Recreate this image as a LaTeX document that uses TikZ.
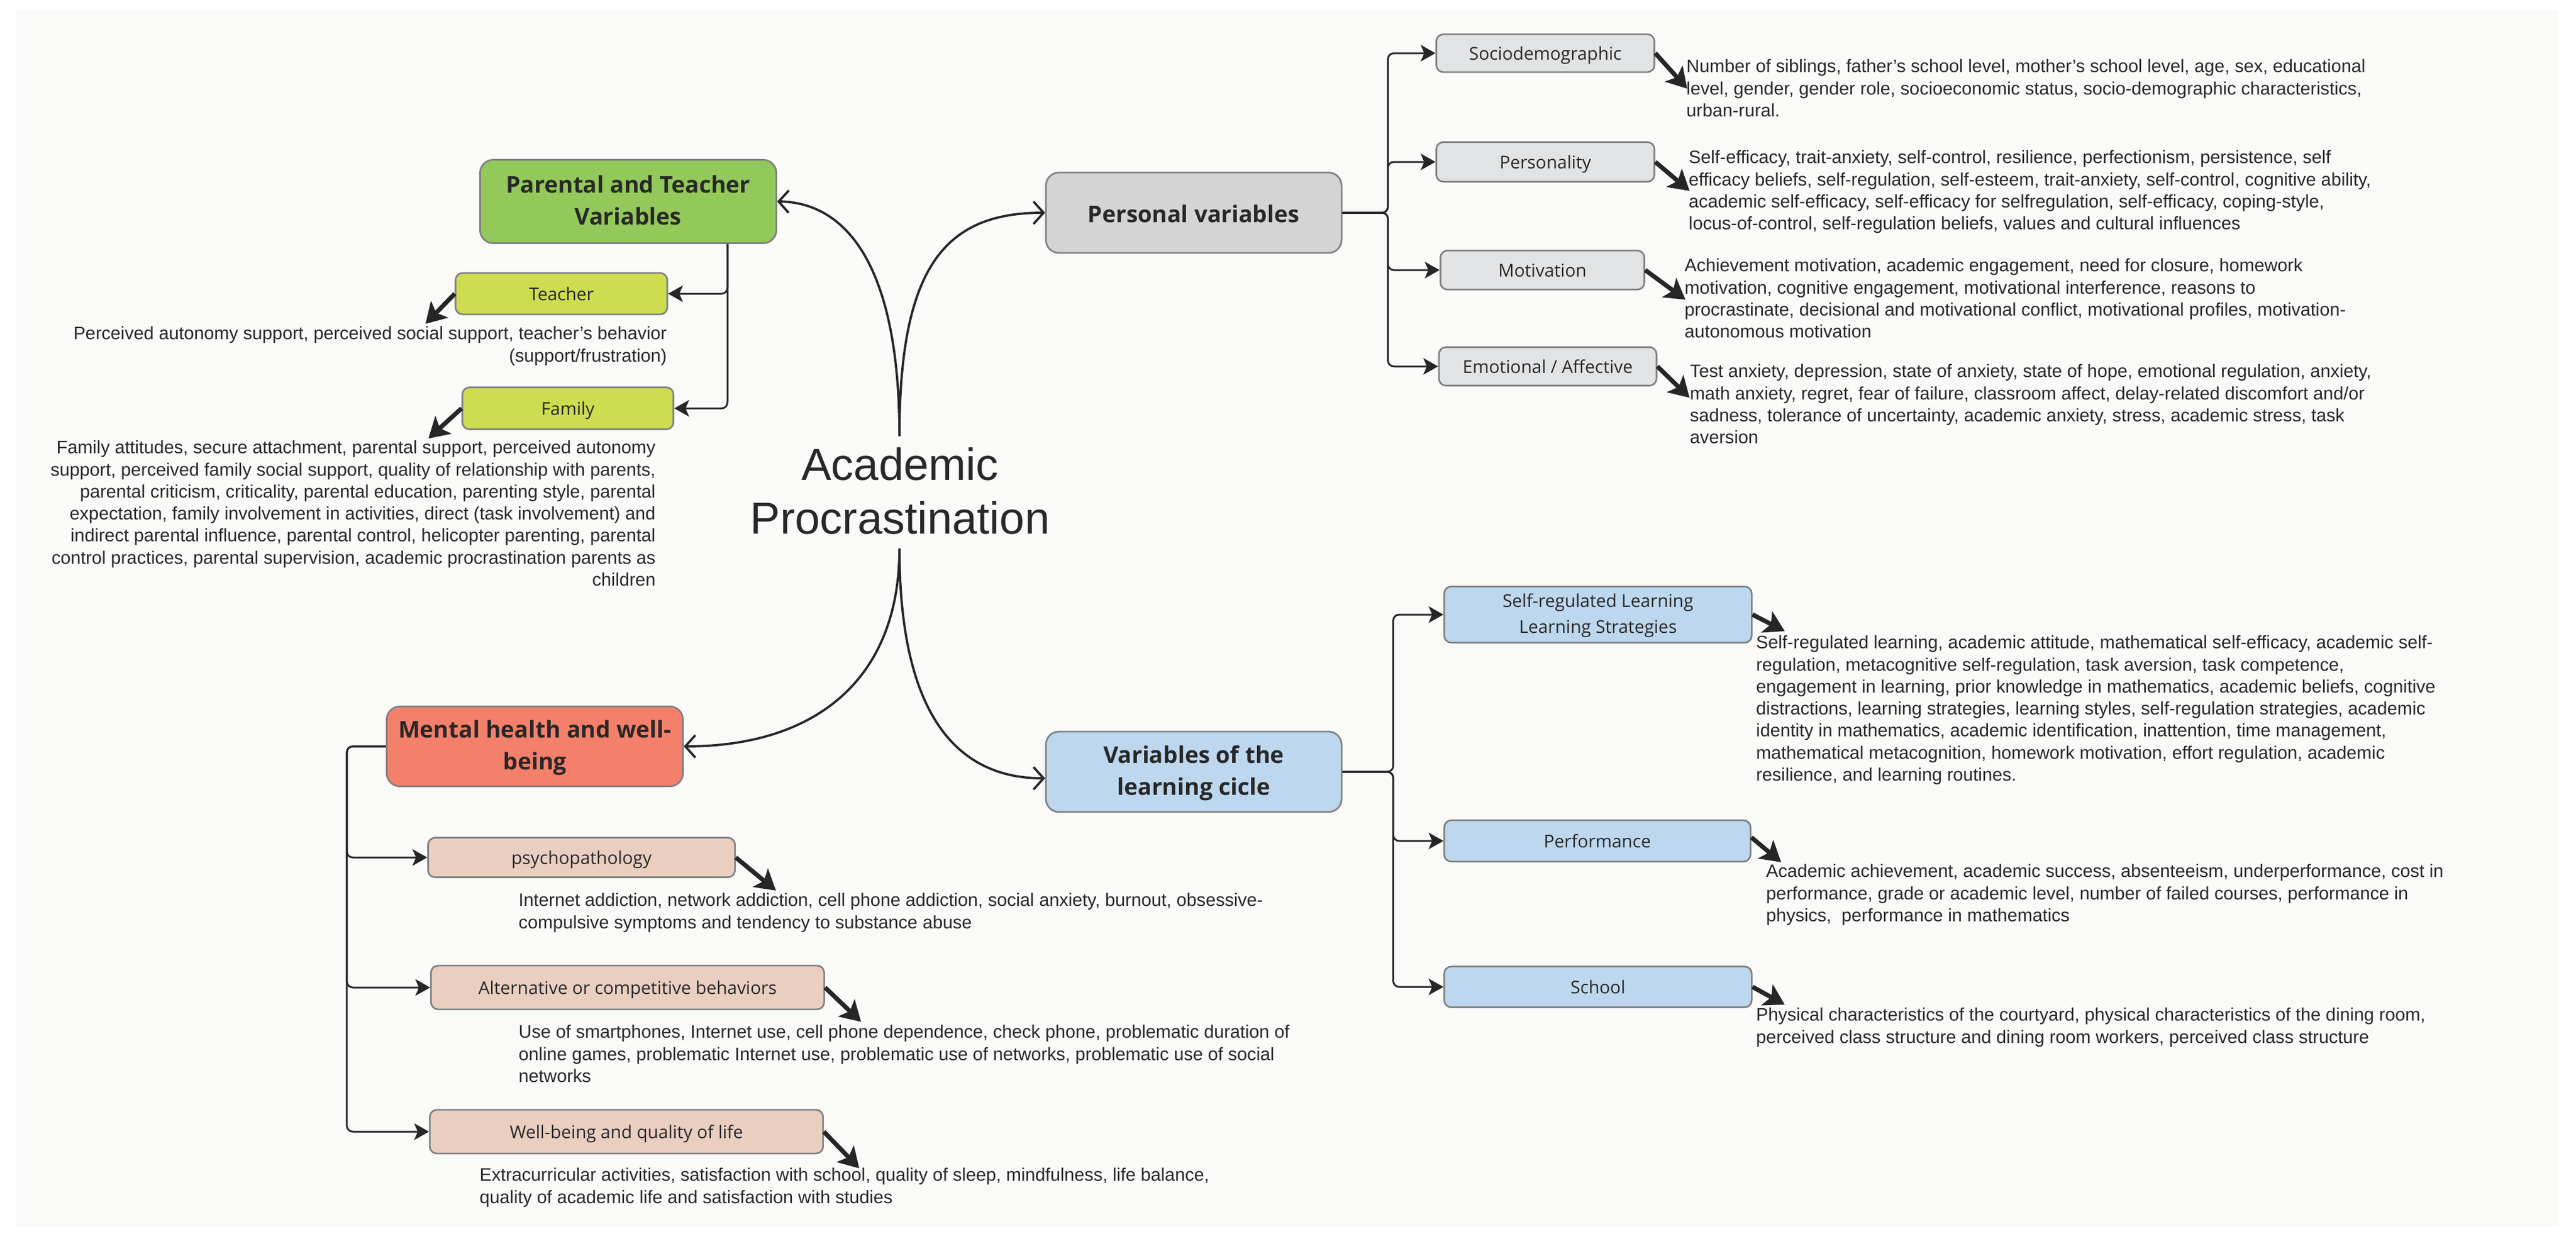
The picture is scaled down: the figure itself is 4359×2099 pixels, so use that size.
\documentclass[tikz,border=0pt]{standalone}
\usepackage{fontspec}
\setmainfont{Liberation Sans}
\newfontfamily\boxfont{Open Sans}
\usetikzlibrary{arrows.meta,calc}
\newcommand\topmainstrut{\rule{0pt}{11.8pt}}
\newcommand\topsubstrut{\rule{0pt}{9.3pt}}
\definecolor{bgc}{RGB}{250,250,249}
\definecolor{txt}{RGB}{40,40,40}
\definecolor{lnc}{RGB}{38,38,38}
\definecolor{bord}{RGB}{128,128,128}
\definecolor{cgreen}{RGB}{146,201,90}
\definecolor{clime}{RGB}{206,221,80}
\definecolor{cgray}{RGB}{212,212,212}
\definecolor{cgraylt}{RGB}{226,227,229}
\definecolor{cblue}{RGB}{189,215,238}
\definecolor{cred}{RGB}{244,128,108}
\definecolor{cpeach}{RGB}{234,207,193}
\begin{document}
\begin{tikzpicture}[x=0.01cm,y=-0.01cm,
  box/.style={draw=bord, line width=0.8pt, rounded corners=0.12cm, inner sep=0pt, align=center, text=txt,
    font=\boxfont\fontsize{8.5}{12.5}\selectfont, execute at begin node={\rule{0pt}{10.4pt}}, execute at end node={\rule[-3.75pt]{0pt}{0pt}}},
  mainbox/.style={box, rounded corners=0.22cm, font=\boxfont\bfseries\fontsize{11.1}{15.6}\selectfont,
    minimum width=5cm, minimum height=1.36cm, execute at begin node={\rule{0pt}{14.2pt}}, execute at end node={\rule[-4.7pt]{0pt}{0pt}}},
  desc/.style={inner sep=0pt, align=left, text=txt, font=\fontsize{8.7}{10.6}\selectfont, execute at begin node=\strut},
  descr/.style={desc, align=right},
  titlenode/.style={inner sep=0pt, align=center, text=txt, font=\fontsize{21.6}{25.9}\selectfont, execute at begin node=\strut},
  elbow/.style={draw=lnc, line width=0.85pt, rounded corners=0.1cm, -{Stealth[length=0.25cm,width=0.28cm,inset=0.06cm]}},
  curvearr/.style={draw=lnc, line width=1.1pt, -{Straight Barb[length=0.17cm,width=0.38cm]}},
  fat/.style={draw=lnc, line width=0.075cm, -{Stealth[length=0.34cm,width=0.40cm,inset=0.08cm]}},
]
\useasboundingbox (0,0) rectangle (4359,2099);
\fill[white] (0,0) rectangle (4359,2099);
\fill[bgc] (28,17) rectangle (4330,2076);

% title
\node[titlenode, anchor=north] (ap) at (1523,757) {Academic\\Procrastination};

% parental and teacher
\node[mainbox, fill=cgreen, minimum width=5.01cm, minimum height=1.41cm] (ptv) at (1063,341) {\topmainstrut Parental and Teacher\\Variables};
\node[box, fill=clime, minimum width=3.58cm, minimum height=0.70cm] (teacher) at (950,497) {Teacher};
\node[box, fill=clime, minimum width=3.57cm, minimum height=0.71cm] (family) at (961,691) {Family};
\node[descr, anchor=north east] (dteacher) at (1129,552) {Perceived autonomy support, perceived social support, teacher’s behavior\\(support/frustration)};
\node[descr, anchor=north east] (dfamily) at (1110,745) {Family attitudes, secure attachment, parental support, perceived autonomy\\support, perceived family social support, quality of relationship with parents,\\parental criticism, criticality, parental education, parenting style, parental\\expectation, family involvement in activities, direct (task involvement) and\\indirect parental influence, parental control, helicopter parenting, parental\\control practices, parental supervision, academic procrastination parents as\\children};

% personal variables
\node[mainbox, fill=cgray] (pv) at (2020,360) {Personal variables};
\node[box, fill=cgraylt, minimum width=3.69cm, minimum height=0.64cm] (socio) at (2615,90) {Sociodemographic};
\node[box, fill=cgraylt, minimum width=3.69cm, minimum height=0.67cm] (perso) at (2615,274) {Personality};
\node[box, fill=cgraylt, minimum width=3.45cm, minimum height=0.66cm] (moti) at (2610,457) {Motivation};
\node[box, fill=cgraylt, minimum width=3.68cm, minimum height=0.65cm] (emo) at (2619,620) {Emotional / Affective};
\node[desc, anchor=north west] (dsocio) at (2853,100) {Number of siblings, father’s school level, mother’s school level, age, sex, educational\\level, gender, gender role, socioeconomic status, socio-demographic characteristics,\\urban-rural.};
\node[desc, anchor=north west] (dperso) at (2857,254) {Self-efficacy, trait-anxiety, self-control, resilience, perfectionism, persistence, self\\efficacy beliefs, self-regulation, self-esteem, trait-anxiety, self-control, cognitive ability,\\academic self-efficacy, self-efficacy for selfregulation, self-efficacy, coping-style,\\locus-of-control, self-regulation beliefs, values and cultural influences};
\node[desc, anchor=north west] (dmoti) at (2850,437) {Achievement motivation, academic engagement, need for closure, homework\\motivation, cognitive engagement, motivational interference, reasons to\\procrastinate, decisional and motivational conflict, motivational profiles, motivation-\\autonomous motivation};
\node[desc, anchor=north west] (demo) at (2859,616) {Test anxiety, depression, state of anxiety, state of hope, emotional regulation, anxiety,\\math anxiety, regret, fear of failure, classroom affect, delay-related discomfort and/or\\sadness, tolerance of uncertainty, academic anxiety, stress, academic stress, task\\aversion};

% learning cycle
\node[mainbox, fill=cblue] (vl) at (2020,1306) {\topmainstrut Variables of the\\learning cicle};
\node[box, fill=cblue, minimum width=5.2cm, minimum height=0.95cm] (srl) at (2704,1040) {\topsubstrut Self-regulated Learning\\Learning Strategies};
\node[box, fill=cblue, minimum width=5.18cm, minimum height=0.70cm] (perf) at (2703,1423) {Performance};
\node[box, fill=cblue, minimum width=5.2cm, minimum height=0.69cm] (school) at (2704,1670) {School};
\node[desc, anchor=north west] (dsrl) at (2971,1075) {Self-regulated learning, academic attitude, mathematical self-efficacy, academic self-\\regulation, metacognitive self-regulation, task aversion, task competence,\\engagement in learning, prior knowledge in mathematics, academic beliefs, cognitive\\distractions, learning strategies, learning styles, self-regulation strategies, academic\\identity in mathematics, academic identification, inattention, time management,\\mathematical metacognition, homework motivation, effort regulation, academic\\resilience, and learning routines.};
\node[desc, anchor=north west] (dperf) at (2988,1462) {Academic achievement, academic success, absenteeism, underperformance, cost in\\performance, grade or academic level, number of failed courses, performance in\\physics,\ \ performance in mathematics};
\node[desc, anchor=north west] (dschool) at (2971,1705) {Physical characteristics of the courtyard, physical characteristics of the dining room,\\perceived class structure and dining room workers, perceived class structure};

% mental health
\node[mainbox, fill=cred, minimum width=5.01cm, minimum height=1.35cm] (mh) at (905,1263) {\topmainstrut Mental health and well-\\being};
\node[box, fill=cpeach, minimum width=5.19cm, minimum height=0.67cm] (psy) at (984,1451) {psychopathology};
\node[box, fill=cpeach, minimum width=6.65cm, minimum height=0.74cm] (alt) at (1062,1671) {Alternative or competitive behaviors};
\node[box, fill=cpeach, minimum width=6.65cm, minimum height=0.74cm] (well) at (1060,1915) {Well-being and quality of life};
\node[desc, anchor=north west] (dpsy) at (877,1511) {Internet addiction, network addiction, cell phone addiction, social anxiety, burnout, obsessive-\\compulsive symptoms and tendency to substance abuse};
\node[desc, anchor=north west] (dalt) at (877,1734) {Use of smartphones, Internet use, cell phone dependence, check phone, problematic duration of\\online games, problematic Internet use, problematic use of networks, problematic use of social\\networks};
\node[desc, anchor=north west] (dwell) at (811,1976) {Extracurricular activities, satisfaction with school, quality of sleep, mindfulness, life balance,\\quality of academic life and satisfaction with studies};

% central curves
\coordinate (ctop) at (1522,738);
\coordinate (cbot) at (1522,928);
\draw[curvearr] (ctop) .. controls (1522,430) and (1420,342) .. (ptv.east);
\draw[curvearr] (ctop) .. controls (1522,450) and (1600,360) .. (pv.west);
\draw[curvearr] (cbot) .. controls (1522,1150) and (1380,1263) .. (mh.east);
\draw[curvearr] (cbot) .. controls (1522,1180) and (1600,1317) .. ($(vl.west)+(0,11)$);

% elbows
\coordinate (ptb) at ($(ptv.south)+(168,0)$);
\draw[elbow] (ptb) |- (teacher.east);
\draw[elbow] (ptb) |- (family.east);
\coordinate (pvb) at ($(pv.east)+(77,0)$);
\draw[elbow] (pv.east) -- (pvb) |- (socio.west);
\draw[elbow] (pv.east) -- (pvb) |- (perso.west);
\draw[elbow] (pv.east) -- (pvb) |- (moti.west);
\draw[elbow] (pv.east) -- (pvb) |- (emo.west);
\coordinate (vlb) at ($(vl.east)+(86,0)$);
\draw[elbow] (vl.east) -- (vlb) |- (srl.west);
\draw[elbow] (vl.east) -- (vlb) |- (perf.west);
\draw[elbow] (vl.east) -- (vlb) |- (school.west);
\coordinate (mhb) at ($(mh.west)+(-66,0)$);
\draw[elbow] (mh.west) -- (mhb) |- (psy.west);
\draw[elbow] (mh.west) -- (mhb) |- (alt.west);
\draw[elbow] (mh.west) -- (mhb) |- (well.west);

% fat arrows
\coordinate (tTeacher) at (720,548);
\coordinate (tFamily) at (725,742);
\coordinate (tSocio) at (2855,150);
\coordinate (tPerso) at (2859,323);
\coordinate (tMoti) at (2852,507);
\coordinate (tEmo) at (2859,673);
\coordinate (tSrl) at (3020,1068);
\coordinate (tPerf) at (3014,1459);
\coordinate (tSchool) at (3020,1700);
\coordinate (tPsy) at (1313,1507);
\coordinate (tAlt) at (1457,1729);
\coordinate (tWell) at (1454,1977);
\draw[fat] (teacher.west) -- (tTeacher);
\draw[fat] (family.west) -- (tFamily);
\draw[fat] (socio.east) -- (tSocio);
\draw[fat] (perso.east) -- (tPerso);
\draw[fat] (moti.east) -- (tMoti);
\draw[fat] (emo.east) -- (tEmo);
\draw[fat] (srl.east) -- (tSrl);
\draw[fat] ($(perf.east)+(0,-6)$) -- (tPerf);
\draw[fat] (school.east) -- (tSchool);
\draw[fat] (psy.east) -- (tPsy);
\draw[fat] (alt.east) -- (tAlt);
\draw[fat] (well.east) -- (tWell);
\end{tikzpicture}
\end{document}
